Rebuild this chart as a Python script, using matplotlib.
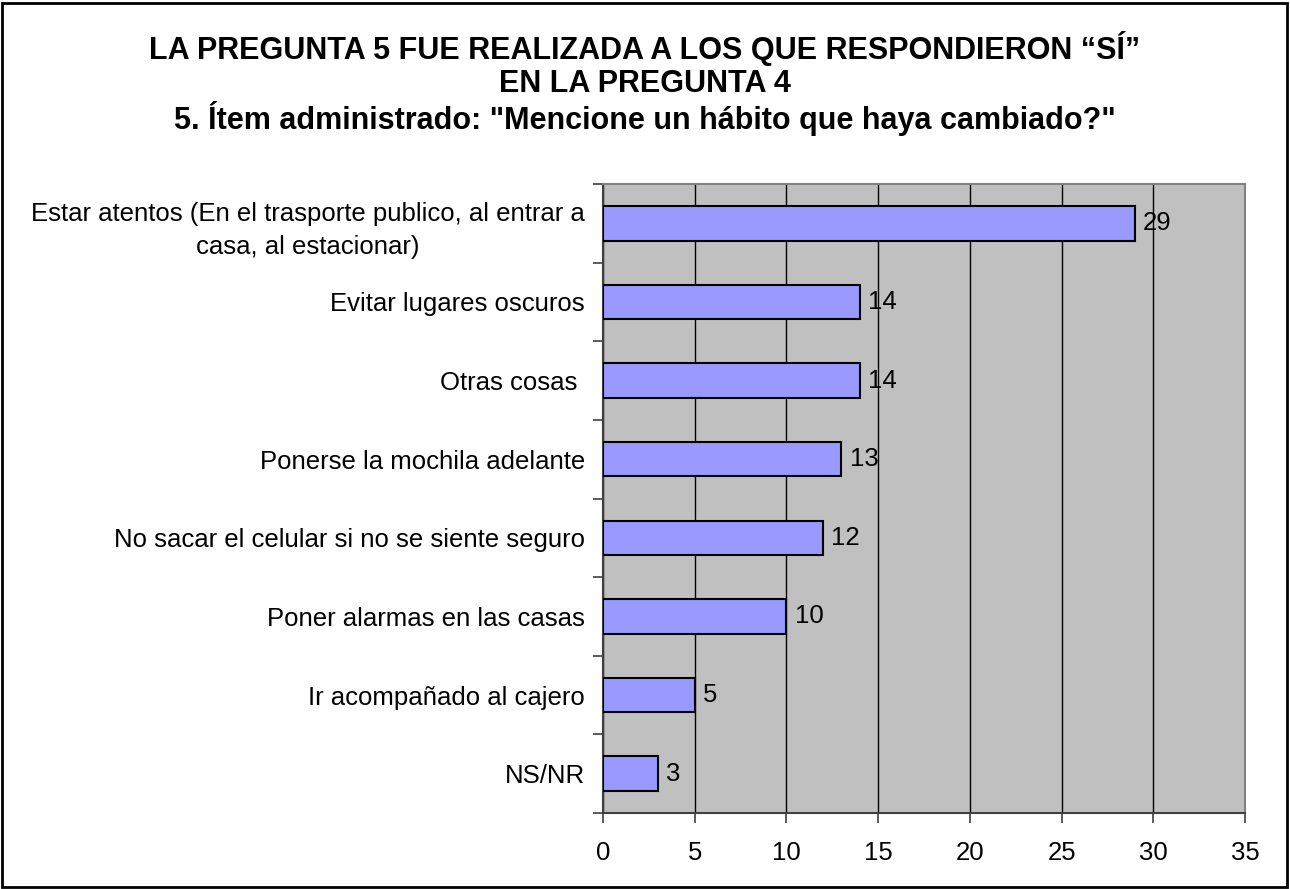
import matplotlib
matplotlib.use("Agg")
import matplotlib.pyplot as plt
import numpy as np

plt.rcParams['font.family'] = ['Liberation Sans', 'DejaVu Sans']

# datos del grafico
categorias = [
    'Estar atentos (En el trasporte publico, al entrar a\ncasa, al estacionar)',
    'Evitar lugares oscuros',
    'Otras cosas ',
    'Ponerse la mochila adelante',
    'No sacar el celular si no se siente seguro',
    'Poner alarmas en las casas',
    'Ir acompañado al cajero',
    'NS/NR',
]
valores = [29, 14, 14, 13, 12, 10, 5, 3]
xticks = [0, 5, 10, 15, 20, 25, 30, 35]

titulo = ['LA PREGUNTA 5 FUE REALIZADA A LOS QUE RESPONDIERON “SÍ”',
          'EN LA PREGUNTA 4',
          '5. Ítem administrado: "Mencione un hábito que haya cambiado?"']

W, H = 1290, 889
fig = plt.figure(figsize=(W / 100, H / 100), dpi=100)

# borde negro de la figura
fig.add_artist(plt.Rectangle((2 / W, 2 / H), 1 - 5 / W, 1 - 5 / H,
                             transform=fig.transFigure, fill=False,
                             edgecolor='black', linewidth=2))

for i, t in enumerate(titulo):
    fig.text(645 / W, 1 - (49 + 35 * i) / H, t, ha='center', va='center',
             fontsize=22, fontweight='bold')

ax = fig.add_axes([603 / W, 1 - 813 / H, 642 / W, 629 / H])
ax.set_facecolor('#C0C0C0')

y = np.arange(len(categorias))
ax.barh(y, valores, height=0.44, color='#9999FF', edgecolor='black',
        linewidth=1.5, zorder=3)
for yi, v in zip(y, valores):
    ax.text(v + 0.45, yi, str(v), va='center', ha='left', fontsize=18.5, zorder=4)

ax.set_xlim(0, 35)
ax.set_ylim(len(categorias) - 0.5, -0.5)
ax.set_xticks(xticks)
ax.set_xticklabels([str(x) for x in xticks], fontsize=18.5)
ax.tick_params(axis='x', length=7, width=1.2, color='#404040', pad=13)
ax.xaxis.grid(True, color='black', linewidth=1)
ax.set_axisbelow(True)

# marcas del eje y entre categorias, etiquetas en el centro
ax.set_yticks(np.arange(len(categorias) + 1) - 0.5)
ax.set_yticklabels([])
ax.set_yticks(y, minor=True)
ax.set_yticklabels(categorias, minor=True, fontsize=18.5, multialignment='center',
                   linespacing=1.5)
ax.tick_params(axis='y', which='major', length=7, width=1.2, color='#404040')
ax.tick_params(axis='y', which='minor', length=0, pad=13)

for s in ['top', 'right']:
    ax.spines[s].set_color('#808080')
    ax.spines[s].set_linewidth(1.5)
for s in ['left', 'bottom']:
    ax.spines[s].set_color('#404040')
    ax.spines[s].set_linewidth(1.5)

fig.savefig('out.png', dpi=100)
